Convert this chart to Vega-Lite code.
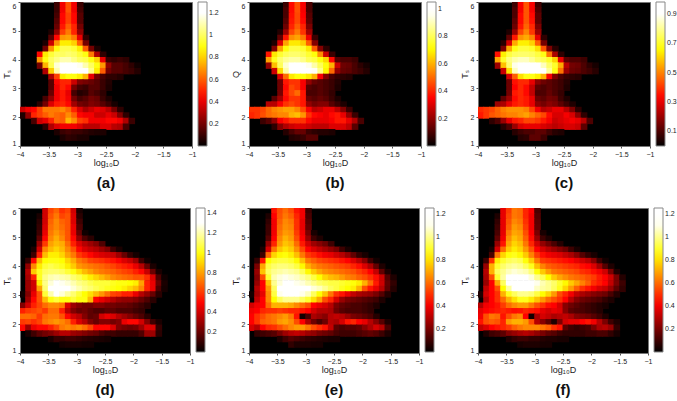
{"$schema":"https://vega.github.io/schema/vega-lite/v6.json","background":"white","padding":{"left":1,"top":1,"right":0,"bottom":0},"bounds":"flush","spacing":206,
"config":{"font":"Liberation Sans","view":{"fill":"#000","stroke":"#777","strokeWidth":1},"axis":{"grid":false,"domain":false,"tickSize":2,"tickColor":"#555","labelFontSize":7,"labelColor":"#222","titleFontSize":9,"titleFontWeight":"normal","titleColor":"#222","labelPadding":2,"labelFlush":false,"format":"~g","titlePadding":1},"axisY":{"labelFlush":true},"legend":{"gradientLength":144,"gradientThickness":9,"labelFontSize":7,"labelColor":"#222","padding":0,"offset":6,"title":null,"labelOverlap":false,"gradientStrokeColor":"#888","gradientStrokeWidth":1,"labelOffset":3},"title":{"orient":"bottom","fontSize":15,"fontWeight":"bold","anchor":"middle","offset":9,"color":"#111"}},
"datasets":{"top":[
{"x":-3.35,"y":5.9,"a":0.1,"b":0.08,"c":0.08},{"x":-3.25,"y":5.9,"a":0.42,"b":0.36,"c":0.32},{"x":-3.15,"y":5.9,"a":0.58,"b":0.46,"c":0.44},{"x":-3.05,"y":5.9,"a":0.42,"b":0.34,"c":0.32},{"x":-2.95,"y":5.9,"a":0.1,"b":0.1,"c":0.08},
{"x":-3.35,"y":5.71,"a":0.1,"b":0.1,"c":0.1},{"x":-3.25,"y":5.71,"a":0.42,"b":0.36,"c":0.32},{"x":-3.15,"y":5.71,"a":0.58,"b":0.46,"c":0.44},{"x":-3.05,"y":5.71,"a":0.42,"b":0.34,"c":0.32},{"x":-2.95,"y":5.71,"a":0.12,"b":0.1,"c":0.1},
{"x":-3.35,"y":5.52,"a":0.12,"b":0.1,"c":0.1},{"x":-3.25,"y":5.52,"a":0.45,"b":0.37,"c":0.34},{"x":-3.15,"y":5.52,"a":0.55,"b":0.45,"c":0.44},{"x":-3.05,"y":5.52,"a":0.45,"b":0.35,"c":0.34},{"x":-2.95,"y":5.52,"a":0.15,"b":0.12,"c":0.12},
{"x":-3.35,"y":5.33,"a":0.15,"b":0.12,"c":0.12},{"x":-3.25,"y":5.33,"a":0.45,"b":0.38,"c":0.34},{"x":-3.15,"y":5.33,"a":0.55,"b":0.45,"c":0.44},{"x":-3.05,"y":5.33,"a":0.45,"b":0.36,"c":0.35},{"x":-2.95,"y":5.33,"a":0.15,"b":0.13,"c":0.12},
{"x":-3.35,"y":5.13,"a":0.18,"b":0.15,"c":0.14},{"x":-3.25,"y":5.13,"a":0.48,"b":0.4,"c":0.36},{"x":-3.15,"y":5.13,"a":0.6,"b":0.48,"c":0.46},{"x":-3.05,"y":5.13,"a":0.5,"b":0.4,"c":0.38},{"x":-2.95,"y":5.13,"a":0.2,"b":0.17,"c":0.16},
{"x":-3.45,"y":4.94,"a":0.05,"b":0.05,"c":0.04},{"x":-3.35,"y":4.94,"a":0.25,"b":0.22,"c":0.2},{"x":-3.25,"y":4.94,"a":0.55,"b":0.45,"c":0.42},{"x":-3.15,"y":4.94,"a":0.65,"b":0.52,"c":0.5},{"x":-3.05,"y":4.94,"a":0.5,"b":0.42,"c":0.4},{"x":-2.95,"y":4.94,"a":0.25,"b":0.22,"c":0.2},
{"x":-3.45,"y":4.75,"a":0.15,"b":0.13,"c":0.12},{"x":-3.35,"y":4.75,"a":0.45,"b":0.38,"c":0.36},{"x":-3.25,"y":4.75,"a":0.7,"b":0.55,"c":0.52},{"x":-3.15,"y":4.75,"a":0.72,"b":0.58,"c":0.55},{"x":-3.05,"y":4.75,"a":0.65,"b":0.52,"c":0.5},{"x":-2.95,"y":4.75,"a":0.4,"b":0.33,"c":0.3},{"x":-2.85,"y":4.75,"a":0.08,"b":0.08,"c":0.06},
{"x":-3.55,"y":4.56,"a":0.05,"b":0.04,"c":0.05},{"x":-3.45,"y":4.56,"a":0.35,"b":0.3,"c":0.28},{"x":-3.35,"y":4.56,"a":0.7,"b":0.58,"c":0.55},{"x":-3.25,"y":4.56,"a":0.85,"b":0.68,"c":0.64},{"x":-3.15,"y":4.56,"a":0.85,"b":0.68,"c":0.64},{"x":-3.05,"y":4.56,"a":0.8,"b":0.64,"c":0.6},{"x":-2.95,"y":4.56,"a":0.6,"b":0.48,"c":0.45},{"x":-2.85,"y":4.56,"a":0.2,"b":0.18,"c":0.15},
{"x":-3.55,"y":4.37,"a":0.2,"b":0.18,"c":0.16},{"x":-3.45,"y":4.37,"a":0.7,"b":0.58,"c":0.55},{"x":-3.35,"y":4.37,"a":0.9,"b":0.72,"c":0.68},{"x":-3.25,"y":4.37,"a":0.98,"b":0.78,"c":0.72},{"x":-3.15,"y":4.37,"a":0.98,"b":0.78,"c":0.72},{"x":-3.05,"y":4.37,"a":0.95,"b":0.76,"c":0.7},{"x":-2.95,"y":4.37,"a":0.85,"b":0.68,"c":0.62},{"x":-2.85,"y":4.37,"a":0.6,"b":0.48,"c":0.44},{"x":-2.75,"y":4.37,"a":0.2,"b":0.18,"c":0.16},{"x":-2.65,"y":4.37,"a":0.05,"b":0.06,"c":0.05},
{"x":-3.65,"y":4.17,"a":0.45,"b":0.38,"c":0.35},{"x":-3.55,"y":4.17,"a":0.85,"b":0.68,"c":0.64},{"x":-3.45,"y":4.17,"a":0.95,"b":0.76,"c":0.72},{"x":-3.35,"y":4.17,"a":1,"b":0.8,"c":0.75},{"x":-3.25,"y":4.17,"a":1,"b":0.82,"c":0.76},{"x":-3.15,"y":4.17,"a":1.02,"b":0.82,"c":0.76},{"x":-3.05,"y":4.17,"a":1,"b":0.8,"c":0.75},{"x":-2.95,"y":4.17,"a":0.95,"b":0.76,"c":0.72},{"x":-2.85,"y":4.17,"a":0.9,"b":0.72,"c":0.68},{"x":-2.75,"y":4.17,"a":0.65,"b":0.55,"c":0.48},{"x":-2.65,"y":4.17,"a":0.3,"b":0.28,"c":0.22},{"x":-2.55,"y":4.17,"a":0.08,"b":0.08,"c":0.06},
{"x":-3.65,"y":3.98,"a":0.7,"b":0.58,"c":0.55},{"x":-3.55,"y":3.98,"a":0.9,"b":0.74,"c":0.7},{"x":-3.45,"y":3.98,"a":1,"b":0.82,"c":0.78},{"x":-3.35,"y":3.98,"a":1.05,"b":0.86,"c":0.82},{"x":-3.25,"y":3.98,"a":1.1,"b":0.88,"c":0.84},{"x":-3.15,"y":3.98,"a":1.1,"b":0.88,"c":0.84},{"x":-3.05,"y":3.98,"a":1.05,"b":0.85,"c":0.8},{"x":-2.95,"y":3.98,"a":1,"b":0.8,"c":0.76},{"x":-2.85,"y":3.98,"a":0.98,"b":0.78,"c":0.74},{"x":-2.75,"y":3.98,"a":0.9,"b":0.72,"c":0.7},{"x":-2.65,"y":3.98,"a":0.8,"b":0.65,"c":0.6},{"x":-2.55,"y":3.98,"a":0.4,"b":0.36,"c":0.3},{"x":-2.45,"y":3.98,"a":0.1,"b":0.12,"c":0.12},{"x":-2.35,"y":3.98,"a":0.08,"b":0.1,"c":0.1},{"x":-2.25,"y":3.98,"a":0.1,"b":0.1,"c":0.1},{"x":-2.15,"y":3.98,"a":0.08,"b":0.08,"c":0.08},
{"x":-3.65,"y":3.79,"a":0.2,"b":0.2,"c":0.2},{"x":-3.55,"y":3.79,"a":0.75,"b":0.62,"c":0.58},{"x":-3.45,"y":3.79,"a":0.98,"b":0.8,"c":0.76},{"x":-3.35,"y":3.79,"a":1.15,"b":0.92,"c":0.88},{"x":-3.25,"y":3.79,"a":1.25,"b":1,"c":0.94},{"x":-3.15,"y":3.79,"a":1.25,"b":1.02,"c":0.95},{"x":-3.05,"y":3.79,"a":1.22,"b":1,"c":0.93},{"x":-2.95,"y":3.79,"a":1.18,"b":0.95,"c":0.9},{"x":-2.85,"y":3.79,"a":1.1,"b":0.88,"c":0.84},{"x":-2.75,"y":3.79,"a":1,"b":0.8,"c":0.76},{"x":-2.65,"y":3.79,"a":0.9,"b":0.72,"c":0.7},{"x":-2.55,"y":3.79,"a":0.7,"b":0.6,"c":0.55},{"x":-2.45,"y":3.79,"a":0.25,"b":0.28,"c":0.24},{"x":-2.35,"y":3.79,"a":0.15,"b":0.15,"c":0.15},{"x":-2.25,"y":3.79,"a":0.15,"b":0.14,"c":0.14},{"x":-2.15,"y":3.79,"a":0.12,"b":0.1,"c":0.1},{"x":-2.05,"y":3.79,"a":0.08,"b":0.06,"c":0.06},{"x":-1.95,"y":3.79,"a":0.03,"b":0.03,"c":0.03},
{"x":-3.55,"y":3.6,"a":0.3,"b":0.28,"c":0.26},{"x":-3.45,"y":3.6,"a":0.8,"b":0.66,"c":0.62},{"x":-3.35,"y":3.6,"a":1.1,"b":0.88,"c":0.84},{"x":-3.25,"y":3.6,"a":1.28,"b":1.03,"c":0.96},{"x":-3.15,"y":3.6,"a":1.3,"b":1.05,"c":0.98},{"x":-3.05,"y":3.6,"a":1.3,"b":1.05,"c":0.98},{"x":-2.95,"y":3.6,"a":1.25,"b":1.02,"c":0.94},{"x":-2.85,"y":3.6,"a":1.2,"b":0.96,"c":0.9},{"x":-2.75,"y":3.6,"a":1.05,"b":0.85,"c":0.8},{"x":-2.65,"y":3.6,"a":0.85,"b":0.7,"c":0.68},{"x":-2.55,"y":3.6,"a":0.6,"b":0.5,"c":0.48},{"x":-2.45,"y":3.6,"a":0.2,"b":0.2,"c":0.2},{"x":-2.35,"y":3.6,"a":0.15,"b":0.14,"c":0.14},{"x":-2.25,"y":3.6,"a":0.15,"b":0.13,"c":0.13},{"x":-2.15,"y":3.6,"a":0.12,"b":0.1,"c":0.1},{"x":-2.05,"y":3.6,"a":0.1,"b":0.08,"c":0.08},{"x":-1.95,"y":3.6,"a":0.06,"b":0.05,"c":0.05},
{"x":-3.45,"y":3.4,"a":0.3,"b":0.3,"c":0.28},{"x":-3.35,"y":3.4,"a":0.55,"b":0.5,"c":0.45},{"x":-3.25,"y":3.4,"a":0.85,"b":0.68,"c":0.62},{"x":-3.15,"y":3.4,"a":0.9,"b":0.72,"c":0.68},{"x":-3.05,"y":3.4,"a":0.9,"b":0.72,"c":0.68},{"x":-2.95,"y":3.4,"a":0.85,"b":0.68,"c":0.64},{"x":-2.85,"y":3.4,"a":0.75,"b":0.6,"c":0.56},{"x":-2.75,"y":3.4,"a":0.4,"b":0.34,"c":0.32},{"x":-2.65,"y":3.4,"a":0.2,"b":0.18,"c":0.16},{"x":-2.55,"y":3.4,"a":0.12,"b":0.1,"c":0.1},{"x":-2.45,"y":3.4,"a":0.08,"b":0.07,"c":0.07},{"x":-2.35,"y":3.4,"a":0.08,"b":0.06,"c":0.06},{"x":-2.25,"y":3.4,"a":0.06,"b":0.05,"c":0.05},
{"x":-3.45,"y":3.21,"a":0.15,"b":0.15,"c":0.14},{"x":-3.35,"y":3.21,"a":0.45,"b":0.38,"c":0.35},{"x":-3.25,"y":3.21,"a":0.5,"b":0.42,"c":0.38},{"x":-3.15,"y":3.21,"a":0.5,"b":0.42,"c":0.38},{"x":-3.05,"y":3.21,"a":0.35,"b":0.34,"c":0.3},{"x":-2.95,"y":3.21,"a":0.22,"b":0.2,"c":0.18},{"x":-2.85,"y":3.21,"a":0.2,"b":0.14,"c":0.14},{"x":-2.75,"y":3.21,"a":0.18,"b":0.12,"c":0.12},{"x":-2.65,"y":3.21,"a":0.15,"b":0.1,"c":0.1},{"x":-2.55,"y":3.21,"a":0.1,"b":0.08,"c":0.08},{"x":-2.45,"y":3.21,"a":0.06,"b":0.05,"c":0.05},
{"x":-3.45,"y":3.02,"a":0.15,"b":0.15,"c":0.14},{"x":-3.35,"y":3.02,"a":0.42,"b":0.36,"c":0.33},{"x":-3.25,"y":3.02,"a":0.5,"b":0.45,"c":0.38},{"x":-3.15,"y":3.02,"a":0.45,"b":0.42,"c":0.34},{"x":-3.05,"y":3.02,"a":0.2,"b":0.34,"c":0.25},{"x":-2.95,"y":3.02,"a":0.12,"b":0.12,"c":0.12},{"x":-2.85,"y":3.02,"a":0.1,"b":0.1,"c":0.1},{"x":-2.75,"y":3.02,"a":0.15,"b":0.12,"c":0.12},{"x":-2.65,"y":3.02,"a":0.15,"b":0.1,"c":0.1},{"x":-2.55,"y":3.02,"a":0.1,"b":0.08,"c":0.08},{"x":-2.45,"y":3.02,"a":0.05,"b":0.04,"c":0.04},
{"x":-3.45,"y":2.83,"a":0.18,"b":0.16,"c":0.15},{"x":-3.35,"y":2.83,"a":0.42,"b":0.38,"c":0.36},{"x":-3.25,"y":2.83,"a":0.48,"b":0.45,"c":0.38},{"x":-3.15,"y":2.83,"a":0.4,"b":0.5,"c":0.34},{"x":-3.05,"y":2.83,"a":0.12,"b":0.38,"c":0.25},{"x":-2.95,"y":2.83,"a":0.06,"b":0.1,"c":0.1},{"x":-2.85,"y":2.83,"a":0.08,"b":0.1,"c":0.1},{"x":-2.75,"y":2.83,"a":0.15,"b":0.12,"c":0.13},{"x":-2.65,"y":2.83,"a":0.12,"b":0.1,"c":0.1},{"x":-2.55,"y":2.83,"a":0.08,"b":0.07,"c":0.07},
{"x":-3.55,"y":2.63,"a":0.12,"b":0.12,"c":0.12},{"x":-3.45,"y":2.63,"a":0.25,"b":0.22,"c":0.2},{"x":-3.35,"y":2.63,"a":0.42,"b":0.36,"c":0.34},{"x":-3.25,"y":2.63,"a":0.48,"b":0.42,"c":0.38},{"x":-3.15,"y":2.63,"a":0.42,"b":0.42,"c":0.36},{"x":-3.05,"y":2.63,"a":0.2,"b":0.38,"c":0.3},{"x":-2.95,"y":2.63,"a":0.12,"b":0.14,"c":0.14},{"x":-2.85,"y":2.63,"a":0.15,"b":0.12,"c":0.12},{"x":-2.75,"y":2.63,"a":0.2,"b":0.14,"c":0.15},{"x":-2.65,"y":2.63,"a":0.18,"b":0.12,"c":0.14},{"x":-2.55,"y":2.63,"a":0.1,"b":0.08,"c":0.08},{"x":-2.45,"y":2.63,"a":0.05,"b":0.04,"c":0.04},
{"x":-3.65,"y":2.44,"a":0.08,"b":0.25,"c":0.2},{"x":-3.55,"y":2.44,"a":0.2,"b":0.25,"c":0.22},{"x":-3.45,"y":2.44,"a":0.38,"b":0.34,"c":0.3},{"x":-3.35,"y":2.44,"a":0.48,"b":0.42,"c":0.36},{"x":-3.25,"y":2.44,"a":0.5,"b":0.45,"c":0.38},{"x":-3.15,"y":2.44,"a":0.45,"b":0.42,"c":0.36},{"x":-3.05,"y":2.44,"a":0.28,"b":0.38,"c":0.3},{"x":-2.95,"y":2.44,"a":0.2,"b":0.2,"c":0.18},{"x":-2.85,"y":2.44,"a":0.18,"b":0.16,"c":0.15},{"x":-2.75,"y":2.44,"a":0.22,"b":0.18,"c":0.18},{"x":-2.65,"y":2.44,"a":0.2,"b":0.18,"c":0.16},{"x":-2.55,"y":2.44,"a":0.15,"b":0.12,"c":0.12},{"x":-2.45,"y":2.44,"a":0.1,"b":0.08,"c":0.08},{"x":-2.35,"y":2.44,"a":0.04,"b":0.04,"c":0.04},
{"x":-3.95,"y":2.25,"a":0.35,"b":0.42,"c":0.38},{"x":-3.85,"y":2.25,"a":0.42,"b":0.42,"c":0.4},{"x":-3.75,"y":2.25,"a":0.45,"b":0.45,"c":0.42},{"x":-3.65,"y":2.25,"a":0.55,"b":0.5,"c":0.46},{"x":-3.55,"y":2.25,"a":0.65,"b":0.54,"c":0.5},{"x":-3.45,"y":2.25,"a":0.65,"b":0.56,"c":0.52},{"x":-3.35,"y":2.25,"a":0.65,"b":0.58,"c":0.52},{"x":-3.25,"y":2.25,"a":0.68,"b":0.58,"c":0.52},{"x":-3.15,"y":2.25,"a":0.62,"b":0.54,"c":0.5},{"x":-3.05,"y":2.25,"a":0.5,"b":0.46,"c":0.42},{"x":-2.95,"y":2.25,"a":0.38,"b":0.34,"c":0.32},{"x":-2.85,"y":2.25,"a":0.3,"b":0.26,"c":0.24},{"x":-2.75,"y":2.25,"a":0.35,"b":0.28,"c":0.26},{"x":-2.65,"y":2.25,"a":0.4,"b":0.32,"c":0.3},{"x":-2.55,"y":2.25,"a":0.38,"b":0.32,"c":0.3},{"x":-2.45,"y":2.25,"a":0.32,"b":0.26,"c":0.24},{"x":-2.35,"y":2.25,"a":0.2,"b":0.18,"c":0.16},{"x":-2.25,"y":2.25,"a":0.08,"b":0.08,"c":0.06},
{"x":-3.95,"y":2.06,"a":0.05,"b":0.4,"c":0.36},{"x":-3.85,"y":2.06,"a":0.25,"b":0.42,"c":0.4},{"x":-3.75,"y":2.06,"a":0.5,"b":0.46,"c":0.44},{"x":-3.65,"y":2.06,"a":0.55,"b":0.5,"c":0.46},{"x":-3.55,"y":2.06,"a":0.6,"b":0.52,"c":0.48},{"x":-3.45,"y":2.06,"a":0.65,"b":0.54,"c":0.5},{"x":-3.35,"y":2.06,"a":0.62,"b":0.54,"c":0.5},{"x":-3.25,"y":2.06,"a":0.6,"b":0.6,"c":0.52},{"x":-3.15,"y":2.06,"a":0.68,"b":0.62,"c":0.54},{"x":-3.05,"y":2.06,"a":0.6,"b":0.56,"c":0.5},{"x":-2.95,"y":2.06,"a":0.45,"b":0.42,"c":0.46},{"x":-2.85,"y":2.06,"a":0.42,"b":0.36,"c":0.42},{"x":-2.75,"y":2.06,"a":0.42,"b":0.34,"c":0.34},{"x":-2.65,"y":2.06,"a":0.35,"b":0.32,"c":0.28},{"x":-2.55,"y":2.06,"a":0.35,"b":0.36,"c":0.28},{"x":-2.45,"y":2.06,"a":0.4,"b":0.38,"c":0.32},{"x":-2.35,"y":2.06,"a":0.35,"b":0.32,"c":0.28},{"x":-2.25,"y":2.06,"a":0.22,"b":0.2,"c":0.18},{"x":-2.15,"y":2.06,"a":0.08,"b":0.08,"c":0.06},
{"x":-3.75,"y":1.87,"a":0.12,"b":0.08,"c":0.06},{"x":-3.65,"y":1.87,"a":0.35,"b":0.12,"c":0.1},{"x":-3.55,"y":1.87,"a":0.4,"b":0.2,"c":0.2},{"x":-3.45,"y":1.87,"a":0.5,"b":0.34,"c":0.3},{"x":-3.35,"y":1.87,"a":0.62,"b":0.38,"c":0.36},{"x":-3.25,"y":1.87,"a":0.6,"b":0.42,"c":0.38},{"x":-3.15,"y":1.87,"a":0.75,"b":0.42,"c":0.42},{"x":-3.05,"y":1.87,"a":0.68,"b":0.42,"c":0.42},{"x":-2.95,"y":1.87,"a":0.55,"b":0.36,"c":0.4},{"x":-2.85,"y":1.87,"a":0.52,"b":0.32,"c":0.36},{"x":-2.75,"y":1.87,"a":0.42,"b":0.32,"c":0.32},{"x":-2.65,"y":1.87,"a":0.42,"b":0.32,"c":0.26},{"x":-2.55,"y":1.87,"a":0.42,"b":0.34,"c":0.28},{"x":-2.45,"y":1.87,"a":0.45,"b":0.38,"c":0.3},{"x":-2.35,"y":1.87,"a":0.45,"b":0.38,"c":0.32},{"x":-2.25,"y":1.87,"a":0.42,"b":0.32,"c":0.3},{"x":-2.15,"y":1.87,"a":0.3,"b":0.24,"c":0.24},{"x":-2.05,"y":1.87,"a":0.1,"b":0.1,"c":0.1},
{"x":-3.55,"y":1.67,"a":0.08,"b":0.06,"c":0.05},{"x":-3.45,"y":1.67,"a":0.3,"b":0.18,"c":0.1},{"x":-3.35,"y":1.67,"a":0.38,"b":0.24,"c":0.2},{"x":-3.25,"y":1.67,"a":0.42,"b":0.28,"c":0.28},{"x":-3.15,"y":1.67,"a":0.42,"b":0.3,"c":0.3},{"x":-3.05,"y":1.67,"a":0.42,"b":0.3,"c":0.3},{"x":-2.95,"y":1.67,"a":0.38,"b":0.28,"c":0.3},{"x":-2.85,"y":1.67,"a":0.32,"b":0.26,"c":0.28},{"x":-2.75,"y":1.67,"a":0.32,"b":0.26,"c":0.26},{"x":-2.65,"y":1.67,"a":0.32,"b":0.26,"c":0.24},{"x":-2.55,"y":1.67,"a":0.38,"b":0.3,"c":0.26},{"x":-2.45,"y":1.67,"a":0.38,"b":0.3,"c":0.28},{"x":-2.35,"y":1.67,"a":0.32,"b":0.3,"c":0.28},{"x":-2.25,"y":1.67,"a":0.3,"b":0.26,"c":0.26},{"x":-2.15,"y":1.67,"a":0.12,"b":0.12,"c":0.12},
{"x":-3.35,"y":1.48,"a":0.05,"b":0.05,"c":0.05},{"x":-3.25,"y":1.48,"a":0.1,"b":0.1,"c":0.08},{"x":-3.15,"y":1.48,"a":0.12,"b":0.14,"c":0.1},{"x":-3.05,"y":1.48,"a":0.1,"b":0.14,"c":0.1},{"x":-2.95,"y":1.48,"a":0.1,"b":0.08,"c":0.12},{"x":-2.85,"y":1.48,"a":0.08,"b":0.06,"c":0.12},{"x":-2.75,"y":1.48,"a":0.06,"b":0.05,"c":0.08},{"x":-2.65,"y":1.48,"a":0.05,"b":0.05,"c":0.05},{"x":-2.55,"y":1.48,"a":0.05,"b":0.04,"c":0.04},
{"x":-3.25,"y":1.29,"a":0.05,"b":0.05,"c":0.05},{"x":-3.15,"y":1.29,"a":0.08,"b":0.06,"c":0.06},{"x":-3.05,"y":1.29,"a":0.07,"b":0.08,"c":0.12},{"x":-2.95,"y":1.29,"a":0.05,"b":0.12,"c":0.12},{"x":-2.85,"y":1.29,"a":0.05,"b":0.12,"c":0.08}
],"bot":[
{"x":-3.55,"y":5.9,"d":0.4,"e":0.45,"f":0.38},{"x":-3.45,"y":5.9,"d":0.62,"e":0.55,"f":0.52},{"x":-3.35,"y":5.9,"d":0.68,"e":0.6,"f":0.62},{"x":-3.25,"y":5.9,"d":0.58,"e":0.55,"f":0.6},{"x":-3.15,"y":5.9,"d":0.62,"e":0.45,"f":0.48},{"x":-3.05,"y":5.9,"d":0.4,"e":0.4,"f":0.42},{"x":-2.95,"y":5.9,"d":0.05,"e":0.1,"f":0.12},
{"x":-3.65,"y":5.71,"d":0.05,"e":0.05,"f":0.05},{"x":-3.55,"y":5.71,"d":0.4,"e":0.42,"f":0.38},{"x":-3.45,"y":5.71,"d":0.65,"e":0.56,"f":0.54},{"x":-3.35,"y":5.71,"d":0.72,"e":0.62,"f":0.62},{"x":-3.25,"y":5.71,"d":0.62,"e":0.58,"f":0.6},{"x":-3.15,"y":5.71,"d":0.65,"e":0.48,"f":0.48},{"x":-3.05,"y":5.71,"d":0.42,"e":0.4,"f":0.4},{"x":-2.95,"y":5.71,"d":0.08,"e":0.12,"f":0.14},
{"x":-3.65,"y":5.52,"d":0.08,"e":0.08,"f":0.08},{"x":-3.55,"y":5.52,"d":0.4,"e":0.4,"f":0.38},{"x":-3.45,"y":5.52,"d":0.68,"e":0.58,"f":0.56},{"x":-3.35,"y":5.52,"d":0.75,"e":0.65,"f":0.65},{"x":-3.25,"y":5.52,"d":0.68,"e":0.62,"f":0.62},{"x":-3.15,"y":5.52,"d":0.65,"e":0.5,"f":0.5},{"x":-3.05,"y":5.52,"d":0.42,"e":0.38,"f":0.4},{"x":-2.95,"y":5.52,"d":0.12,"e":0.14,"f":0.15},
{"x":-3.65,"y":5.33,"d":0.1,"e":0.1,"f":0.1},{"x":-3.55,"y":5.33,"d":0.42,"e":0.4,"f":0.38},{"x":-3.45,"y":5.33,"d":0.7,"e":0.6,"f":0.58},{"x":-3.35,"y":5.33,"d":0.75,"e":0.66,"f":0.68},{"x":-3.25,"y":5.33,"d":0.7,"e":0.64,"f":0.65},{"x":-3.15,"y":5.33,"d":0.65,"e":0.5,"f":0.52},{"x":-3.05,"y":5.33,"d":0.45,"e":0.38,"f":0.4},{"x":-2.95,"y":5.33,"d":0.15,"e":0.16,"f":0.16},
{"x":-3.65,"y":5.13,"d":0.12,"e":0.1,"f":0.12},{"x":-3.55,"y":5.13,"d":0.45,"e":0.4,"f":0.38},{"x":-3.45,"y":5.13,"d":0.72,"e":0.62,"f":0.62},{"x":-3.35,"y":5.13,"d":0.78,"e":0.68,"f":0.7},{"x":-3.25,"y":5.13,"d":0.72,"e":0.66,"f":0.68},{"x":-3.15,"y":5.13,"d":0.65,"e":0.52,"f":0.55},{"x":-3.05,"y":5.13,"d":0.45,"e":0.4,"f":0.42},{"x":-2.95,"y":5.13,"d":0.2,"e":0.2,"f":0.2},{"x":-2.85,"y":5.13,"d":0.03,"e":0.04,"f":0.04},
{"x":-3.65,"y":4.94,"d":0.18,"e":0.14,"f":0.16},{"x":-3.55,"y":4.94,"d":0.5,"e":0.42,"f":0.4},{"x":-3.45,"y":4.94,"d":0.75,"e":0.65,"f":0.66},{"x":-3.35,"y":4.94,"d":0.82,"e":0.72,"f":0.74},{"x":-3.25,"y":4.94,"d":0.75,"e":0.68,"f":0.7},{"x":-3.15,"y":4.94,"d":0.65,"e":0.55,"f":0.58},{"x":-3.05,"y":4.94,"d":0.5,"e":0.42,"f":0.44},{"x":-2.95,"y":4.94,"d":0.28,"e":0.25,"f":0.25},{"x":-2.85,"y":4.94,"d":0.15,"e":0.1,"f":0.1},{"x":-2.75,"y":4.94,"d":0.08,"e":0.05,"f":0.05},
{"x":-3.65,"y":4.75,"d":0.3,"e":0.25,"f":0.25},{"x":-3.55,"y":4.75,"d":0.6,"e":0.48,"f":0.45},{"x":-3.45,"y":4.75,"d":0.8,"e":0.68,"f":0.7},{"x":-3.35,"y":4.75,"d":0.85,"e":0.75,"f":0.78},{"x":-3.25,"y":4.75,"d":0.82,"e":0.72,"f":0.74},{"x":-3.15,"y":4.75,"d":0.7,"e":0.6,"f":0.62},{"x":-3.05,"y":4.75,"d":0.55,"e":0.46,"f":0.48},{"x":-2.95,"y":4.75,"d":0.42,"e":0.34,"f":0.34},{"x":-2.85,"y":4.75,"d":0.35,"e":0.26,"f":0.24},{"x":-2.75,"y":4.75,"d":0.3,"e":0.22,"f":0.18},{"x":-2.65,"y":4.75,"d":0.25,"e":0.18,"f":0.12},{"x":-2.55,"y":4.75,"d":0.15,"e":0.1,"f":0.06},
{"x":-3.75,"y":4.56,"d":0.05,"e":0.04,"f":0.04},{"x":-3.65,"y":4.56,"d":0.4,"e":0.35,"f":0.35},{"x":-3.55,"y":4.56,"d":0.75,"e":0.62,"f":0.6},{"x":-3.45,"y":4.56,"d":0.85,"e":0.75,"f":0.76},{"x":-3.35,"y":4.56,"d":0.9,"e":0.8,"f":0.82},{"x":-3.25,"y":4.56,"d":0.85,"e":0.76,"f":0.78},{"x":-3.15,"y":4.56,"d":0.75,"e":0.66,"f":0.68},{"x":-3.05,"y":4.56,"d":0.65,"e":0.54,"f":0.56},{"x":-2.95,"y":4.56,"d":0.5,"e":0.42,"f":0.42},{"x":-2.85,"y":4.56,"d":0.42,"e":0.36,"f":0.35},{"x":-2.75,"y":4.56,"d":0.38,"e":0.32,"f":0.3},{"x":-2.65,"y":4.56,"d":0.35,"e":0.28,"f":0.26},{"x":-2.55,"y":4.56,"d":0.3,"e":0.24,"f":0.22},{"x":-2.45,"y":4.56,"d":0.25,"e":0.2,"f":0.18},{"x":-2.35,"y":4.56,"d":0.12,"e":0.1,"f":0.1},{"x":-2.25,"y":4.56,"d":0.05,"e":0.04,"f":0.04},
{"x":-3.75,"y":4.37,"d":0.12,"e":0.1,"f":0.12},{"x":-3.65,"y":4.37,"d":0.55,"e":0.6,"f":0.62},{"x":-3.55,"y":4.37,"d":0.85,"e":0.78,"f":0.78},{"x":-3.45,"y":4.37,"d":0.95,"e":0.84,"f":0.86},{"x":-3.35,"y":4.37,"d":0.95,"e":0.86,"f":0.88},{"x":-3.25,"y":4.37,"d":0.9,"e":0.82,"f":0.84},{"x":-3.15,"y":4.37,"d":0.8,"e":0.74,"f":0.76},{"x":-3.05,"y":4.37,"d":0.72,"e":0.62,"f":0.64},{"x":-2.95,"y":4.37,"d":0.6,"e":0.52,"f":0.52},{"x":-2.85,"y":4.37,"d":0.55,"e":0.48,"f":0.44},{"x":-2.75,"y":4.37,"d":0.5,"e":0.44,"f":0.4},{"x":-2.65,"y":4.37,"d":0.45,"e":0.4,"f":0.38},{"x":-2.55,"y":4.37,"d":0.42,"e":0.38,"f":0.36},{"x":-2.45,"y":4.37,"d":0.4,"e":0.34,"f":0.32},{"x":-2.35,"y":4.37,"d":0.38,"e":0.3,"f":0.28},{"x":-2.25,"y":4.37,"d":0.3,"e":0.24,"f":0.22},{"x":-2.15,"y":4.37,"d":0.2,"e":0.16,"f":0.14},{"x":-2.05,"y":4.37,"d":0.1,"e":0.08,"f":0.08},{"x":-1.95,"y":4.37,"d":0.04,"e":0.04,"f":0.04},
{"x":-3.85,"y":4.17,"d":0.1,"e":0.08,"f":0.1},{"x":-3.75,"y":4.17,"d":0.5,"e":0.45,"f":0.5},{"x":-3.65,"y":4.17,"d":0.85,"e":0.85,"f":0.82},{"x":-3.55,"y":4.17,"d":0.98,"e":0.9,"f":0.9},{"x":-3.45,"y":4.17,"d":1,"e":0.92,"f":0.94},{"x":-3.35,"y":4.17,"d":1,"e":0.92,"f":0.96},{"x":-3.25,"y":4.17,"d":0.98,"e":0.9,"f":0.94},{"x":-3.15,"y":4.17,"d":0.9,"e":0.84,"f":0.86},{"x":-3.05,"y":4.17,"d":0.82,"e":0.74,"f":0.76},{"x":-2.95,"y":4.17,"d":0.72,"e":0.62,"f":0.62},{"x":-2.85,"y":4.17,"d":0.68,"e":0.58,"f":0.52},{"x":-2.75,"y":4.17,"d":0.62,"e":0.54,"f":0.5},{"x":-2.65,"y":4.17,"d":0.6,"e":0.52,"f":0.48},{"x":-2.55,"y":4.17,"d":0.58,"e":0.5,"f":0.46},{"x":-2.45,"y":4.17,"d":0.55,"e":0.48,"f":0.44},{"x":-2.35,"y":4.17,"d":0.52,"e":0.45,"f":0.42},{"x":-2.25,"y":4.17,"d":0.48,"e":0.42,"f":0.38},{"x":-2.15,"y":4.17,"d":0.42,"e":0.36,"f":0.34},{"x":-2.05,"y":4.17,"d":0.38,"e":0.3,"f":0.3},{"x":-1.95,"y":4.17,"d":0.3,"e":0.22,"f":0.22},{"x":-1.85,"y":4.17,"d":0.12,"e":0.1,"f":0.1},{"x":-1.75,"y":4.17,"d":0.03,"e":0.03,"f":0.03},
{"x":-3.85,"y":3.98,"d":0.28,"e":0.2,"f":0.25},{"x":-3.75,"y":3.98,"d":0.75,"e":0.7,"f":0.72},{"x":-3.65,"y":3.98,"d":0.95,"e":0.92,"f":0.9},{"x":-3.55,"y":3.98,"d":1.05,"e":0.96,"f":0.96},{"x":-3.45,"y":3.98,"d":1.08,"e":0.98,"f":1},{"x":-3.35,"y":3.98,"d":1.05,"e":0.98,"f":1.02},{"x":-3.25,"y":3.98,"d":1.02,"e":0.96,"f":1},{"x":-3.15,"y":3.98,"d":0.95,"e":0.92,"f":0.95},{"x":-3.05,"y":3.98,"d":0.88,"e":0.84,"f":0.88},{"x":-2.95,"y":3.98,"d":0.78,"e":0.72,"f":0.74},{"x":-2.85,"y":3.98,"d":0.75,"e":0.66,"f":0.64},{"x":-2.75,"y":3.98,"d":0.72,"e":0.62,"f":0.58},{"x":-2.65,"y":3.98,"d":0.7,"e":0.6,"f":0.56},{"x":-2.55,"y":3.98,"d":0.68,"e":0.58,"f":0.54},{"x":-2.45,"y":3.98,"d":0.65,"e":0.56,"f":0.52},{"x":-2.35,"y":3.98,"d":0.62,"e":0.54,"f":0.5},{"x":-2.25,"y":3.98,"d":0.58,"e":0.52,"f":0.48},{"x":-2.15,"y":3.98,"d":0.55,"e":0.48,"f":0.44},{"x":-2.05,"y":3.98,"d":0.52,"e":0.44,"f":0.42},{"x":-1.95,"y":3.98,"d":0.45,"e":0.36,"f":0.36},{"x":-1.85,"y":3.98,"d":0.35,"e":0.28,"f":0.26},{"x":-1.75,"y":3.98,"d":0.2,"e":0.16,"f":0.14},{"x":-1.65,"y":3.98,"d":0.05,"e":0.05,"f":0.05},
{"x":-3.85,"y":3.79,"d":0.35,"e":0.25,"f":0.3},{"x":-3.75,"y":3.79,"d":0.88,"e":0.75,"f":0.72},{"x":-3.65,"y":3.79,"d":1.02,"e":0.95,"f":0.95},{"x":-3.55,"y":3.79,"d":1.1,"e":1,"f":1},{"x":-3.45,"y":3.79,"d":1.12,"e":1.02,"f":1.05},{"x":-3.35,"y":3.79,"d":1.12,"e":1.04,"f":1.08},{"x":-3.25,"y":3.79,"d":1.1,"e":1.02,"f":1.06},{"x":-3.15,"y":3.79,"d":1.05,"e":1,"f":1.04},{"x":-3.05,"y":3.79,"d":1,"e":0.94,"f":0.98},{"x":-2.95,"y":3.79,"d":0.92,"e":0.84,"f":0.86},{"x":-2.85,"y":3.79,"d":0.85,"e":0.76,"f":0.76},{"x":-2.75,"y":3.79,"d":0.8,"e":0.7,"f":0.68},{"x":-2.65,"y":3.79,"d":0.75,"e":0.66,"f":0.62},{"x":-2.55,"y":3.79,"d":0.72,"e":0.64,"f":0.6},{"x":-2.45,"y":3.79,"d":0.7,"e":0.62,"f":0.58},{"x":-2.35,"y":3.79,"d":0.68,"e":0.6,"f":0.56},{"x":-2.25,"y":3.79,"d":0.65,"e":0.58,"f":0.54},{"x":-2.15,"y":3.79,"d":0.62,"e":0.56,"f":0.5},{"x":-2.05,"y":3.79,"d":0.6,"e":0.52,"f":0.48},{"x":-1.95,"y":3.79,"d":0.55,"e":0.48,"f":0.44},{"x":-1.85,"y":3.79,"d":0.5,"e":0.42,"f":0.4},{"x":-1.75,"y":3.79,"d":0.38,"e":0.32,"f":0.34},{"x":-1.65,"y":3.79,"d":0.2,"e":0.16,"f":0.2},{"x":-1.55,"y":3.79,"d":0.05,"e":0.05,"f":0.05},
{"x":-3.85,"y":3.6,"d":0.32,"e":0.22,"f":0.28},{"x":-3.75,"y":3.6,"d":0.55,"e":0.55,"f":0.55},{"x":-3.65,"y":3.6,"d":1.02,"e":0.9,"f":0.9},{"x":-3.55,"y":3.6,"d":1.15,"e":1.04,"f":1.02},{"x":-3.45,"y":3.6,"d":1.2,"e":1.08,"f":1.12},{"x":-3.35,"y":3.6,"d":1.22,"e":1.1,"f":1.15},{"x":-3.25,"y":3.6,"d":1.2,"e":1.08,"f":1.16},{"x":-3.15,"y":3.6,"d":1.18,"e":1.06,"f":1.14},{"x":-3.05,"y":3.6,"d":1.12,"e":1.02,"f":1.08},{"x":-2.95,"y":3.6,"d":1.08,"e":0.98,"f":1},{"x":-2.85,"y":3.6,"d":1.02,"e":0.92,"f":0.94},{"x":-2.75,"y":3.6,"d":0.95,"e":0.85,"f":0.85},{"x":-2.65,"y":3.6,"d":0.9,"e":0.78,"f":0.76},{"x":-2.55,"y":3.6,"d":0.85,"e":0.74,"f":0.7},{"x":-2.45,"y":3.6,"d":0.8,"e":0.72,"f":0.66},{"x":-2.35,"y":3.6,"d":0.75,"e":0.68,"f":0.62},{"x":-2.25,"y":3.6,"d":0.72,"e":0.64,"f":0.6},{"x":-2.15,"y":3.6,"d":0.7,"e":0.62,"f":0.58},{"x":-2.05,"y":3.6,"d":0.68,"e":0.58,"f":0.55},{"x":-1.95,"y":3.6,"d":0.65,"e":0.55,"f":0.52},{"x":-1.85,"y":3.6,"d":0.65,"e":0.5,"f":0.46},{"x":-1.75,"y":3.6,"d":0.58,"e":0.44,"f":0.42},{"x":-1.65,"y":3.6,"d":0.42,"e":0.34,"f":0.34},{"x":-1.55,"y":3.6,"d":0.15,"e":0.14,"f":0.2},{"x":-1.45,"y":3.6,"d":0.03,"e":0.05,"f":0.06},
{"x":-3.85,"y":3.4,"d":0.3,"e":0.25,"f":0.25},{"x":-3.75,"y":3.4,"d":0.4,"e":0.42,"f":0.42},{"x":-3.65,"y":3.4,"d":0.95,"e":0.75,"f":0.7},{"x":-3.55,"y":3.4,"d":1.15,"e":1,"f":0.95},{"x":-3.45,"y":3.4,"d":1.25,"e":1.08,"f":1.12},{"x":-3.35,"y":3.4,"d":1.3,"e":1.12,"f":1.2},{"x":-3.25,"y":3.4,"d":1.28,"e":1.12,"f":1.22},{"x":-3.15,"y":3.4,"d":1.25,"e":1.1,"f":1.2},{"x":-3.05,"y":3.4,"d":1.2,"e":1.08,"f":1.15},{"x":-2.95,"y":3.4,"d":1.15,"e":1.04,"f":1.1},{"x":-2.85,"y":3.4,"d":1.12,"e":1,"f":1.04},{"x":-2.75,"y":3.4,"d":1.08,"e":0.96,"f":1},{"x":-2.65,"y":3.4,"d":1.05,"e":0.94,"f":0.96},{"x":-2.55,"y":3.4,"d":1.05,"e":0.92,"f":0.9},{"x":-2.45,"y":3.4,"d":1.05,"e":0.92,"f":0.84},{"x":-2.35,"y":3.4,"d":1.02,"e":0.9,"f":0.76},{"x":-2.25,"y":3.4,"d":1,"e":0.88,"f":0.7},{"x":-2.15,"y":3.4,"d":1,"e":0.86,"f":0.64},{"x":-2.05,"y":3.4,"d":0.98,"e":0.82,"f":0.58},{"x":-1.95,"y":3.4,"d":0.95,"e":0.72,"f":0.5},{"x":-1.85,"y":3.4,"d":0.8,"e":0.6,"f":0.46},{"x":-1.75,"y":3.4,"d":0.55,"e":0.46,"f":0.42},{"x":-1.65,"y":3.4,"d":0.45,"e":0.34,"f":0.32},{"x":-1.55,"y":3.4,"d":0.2,"e":0.16,"f":0.2},{"x":-1.45,"y":3.4,"d":0.05,"e":0.08,"f":0.1},
{"x":-3.85,"y":3.21,"d":0.3,"e":0.3,"f":0.32},{"x":-3.75,"y":3.21,"d":0.4,"e":0.42,"f":0.42},{"x":-3.65,"y":3.21,"d":0.8,"e":0.68,"f":0.55},{"x":-3.55,"y":3.21,"d":1.12,"e":0.95,"f":0.85},{"x":-3.45,"y":3.21,"d":1.3,"e":1.15,"f":1.02},{"x":-3.35,"y":3.21,"d":1.42,"e":1.2,"f":1.12},{"x":-3.25,"y":3.21,"d":1.45,"e":1.2,"f":1.18},{"x":-3.15,"y":3.21,"d":1.35,"e":1.18,"f":1.15},{"x":-3.05,"y":3.21,"d":1.25,"e":1.15,"f":1.12},{"x":-2.95,"y":3.21,"d":1.2,"e":1.12,"f":1.06},{"x":-2.85,"y":3.21,"d":1.15,"e":1.08,"f":1.02},{"x":-2.75,"y":3.21,"d":1.12,"e":1.05,"f":1},{"x":-2.65,"y":3.21,"d":1.08,"e":1,"f":0.95},{"x":-2.55,"y":3.21,"d":1.05,"e":0.95,"f":0.88},{"x":-2.45,"y":3.21,"d":1.02,"e":0.92,"f":0.78},{"x":-2.35,"y":3.21,"d":1,"e":0.88,"f":0.68},{"x":-2.25,"y":3.21,"d":0.98,"e":0.85,"f":0.58},{"x":-2.15,"y":3.21,"d":0.95,"e":0.82,"f":0.5},{"x":-2.05,"y":3.21,"d":0.9,"e":0.72,"f":0.45},{"x":-1.95,"y":3.21,"d":0.85,"e":0.55,"f":0.4},{"x":-1.85,"y":3.21,"d":0.75,"e":0.45,"f":0.35},{"x":-1.75,"y":3.21,"d":0.55,"e":0.38,"f":0.32},{"x":-1.65,"y":3.21,"d":0.45,"e":0.3,"f":0.25},{"x":-1.55,"y":3.21,"d":0.15,"e":0.15,"f":0.15},{"x":-1.45,"y":3.21,"d":0.04,"e":0.06,"f":0.08},
{"x":-3.95,"y":3.02,"d":0.03,"e":0.03,"f":0.05},{"x":-3.85,"y":3.02,"d":0.25,"e":0.28,"f":0.35},{"x":-3.75,"y":3.02,"d":0.45,"e":0.38,"f":0.42},{"x":-3.65,"y":3.02,"d":0.65,"e":0.65,"f":0.5},{"x":-3.55,"y":3.02,"d":1.05,"e":0.92,"f":0.72},{"x":-3.45,"y":3.02,"d":1.2,"e":1.1,"f":0.88},{"x":-3.35,"y":3.02,"d":1.3,"e":1.15,"f":0.95},{"x":-3.25,"y":3.02,"d":1.25,"e":1.18,"f":1},{"x":-3.15,"y":3.02,"d":1.18,"e":1.15,"f":1},{"x":-3.05,"y":3.02,"d":1.12,"e":1.1,"f":0.98},{"x":-2.95,"y":3.02,"d":1.05,"e":1.05,"f":0.92},{"x":-2.85,"y":3.02,"d":0.98,"e":0.95,"f":0.85},{"x":-2.75,"y":3.02,"d":0.92,"e":0.85,"f":0.78},{"x":-2.65,"y":3.02,"d":0.85,"e":0.75,"f":0.68},{"x":-2.55,"y":3.02,"d":0.78,"e":0.62,"f":0.55},{"x":-2.45,"y":3.02,"d":0.7,"e":0.5,"f":0.48},{"x":-2.35,"y":3.02,"d":0.62,"e":0.45,"f":0.4},{"x":-2.25,"y":3.02,"d":0.6,"e":0.38,"f":0.32},{"x":-2.15,"y":3.02,"d":0.55,"e":0.32,"f":0.28},{"x":-2.05,"y":3.02,"d":0.55,"e":0.28,"f":0.25},{"x":-1.95,"y":3.02,"d":0.45,"e":0.26,"f":0.22},{"x":-1.85,"y":3.02,"d":0.35,"e":0.24,"f":0.2},{"x":-1.75,"y":3.02,"d":0.28,"e":0.2,"f":0.18},{"x":-1.65,"y":3.02,"d":0.2,"e":0.14,"f":0.12},{"x":-1.55,"y":3.02,"d":0.08,"e":0.06,"f":0.06},
{"x":-3.85,"y":2.83,"d":0.3,"e":0.32,"f":0.3},{"x":-3.75,"y":2.83,"d":0.5,"e":0.42,"f":0.42},{"x":-3.65,"y":2.83,"d":0.65,"e":0.65,"f":0.5},{"x":-3.55,"y":2.83,"d":0.85,"e":0.85,"f":0.6},{"x":-3.45,"y":2.83,"d":1,"e":0.95,"f":0.72},{"x":-3.35,"y":2.83,"d":1.05,"e":1,"f":0.8},{"x":-3.25,"y":2.83,"d":1,"e":1,"f":0.88},{"x":-3.15,"y":2.83,"d":1,"e":1,"f":0.88},{"x":-3.05,"y":2.83,"d":1.05,"e":0.95,"f":0.82},{"x":-2.95,"y":2.83,"d":1,"e":0.9,"f":0.75},{"x":-2.85,"y":2.83,"d":1,"e":0.8,"f":0.68},{"x":-2.75,"y":2.83,"d":0.85,"e":0.7,"f":0.6},{"x":-2.65,"y":2.83,"d":0.5,"e":0.55,"f":0.55},{"x":-2.55,"y":2.83,"d":0.45,"e":0.48,"f":0.5},{"x":-2.45,"y":2.83,"d":0.4,"e":0.35,"f":0.42},{"x":-2.35,"y":2.83,"d":0.35,"e":0.25,"f":0.3},{"x":-2.25,"y":2.83,"d":0.3,"e":0.2,"f":0.22},{"x":-2.15,"y":2.83,"d":0.28,"e":0.18,"f":0.18},{"x":-2.05,"y":2.83,"d":0.28,"e":0.16,"f":0.16},{"x":-1.95,"y":2.83,"d":0.25,"e":0.14,"f":0.14},{"x":-1.85,"y":2.83,"d":0.2,"e":0.12,"f":0.12},{"x":-1.75,"y":2.83,"d":0.15,"e":0.1,"f":0.08},{"x":-1.65,"y":2.83,"d":0.08,"e":0.05,"f":0.05},
{"x":-3.95,"y":2.63,"d":0.25,"e":0.35,"f":0.3},{"x":-3.85,"y":2.63,"d":0.4,"e":0.4,"f":0.4},{"x":-3.75,"y":2.63,"d":0.55,"e":0.42,"f":0.42},{"x":-3.65,"y":2.63,"d":0.62,"e":0.6,"f":0.45},{"x":-3.55,"y":2.63,"d":0.7,"e":0.72,"f":0.52},{"x":-3.45,"y":2.63,"d":0.75,"e":0.72,"f":0.6},{"x":-3.35,"y":2.63,"d":0.75,"e":0.72,"f":0.65},{"x":-3.25,"y":2.63,"d":0.72,"e":0.7,"f":0.68},{"x":-3.15,"y":2.63,"d":0.42,"e":0.65,"f":0.68},{"x":-3.05,"y":2.63,"d":0.3,"e":0.6,"f":0.62},{"x":-2.95,"y":2.63,"d":0.25,"e":0.55,"f":0.55},{"x":-2.85,"y":2.63,"d":0.22,"e":0.42,"f":0.5},{"x":-2.75,"y":2.63,"d":0.22,"e":0.38,"f":0.44},{"x":-2.65,"y":2.63,"d":0.25,"e":0.35,"f":0.42},{"x":-2.55,"y":2.63,"d":0.25,"e":0.3,"f":0.35},{"x":-2.45,"y":2.63,"d":0.22,"e":0.2,"f":0.22},{"x":-2.35,"y":2.63,"d":0.22,"e":0.16,"f":0.18},{"x":-2.25,"y":2.63,"d":0.2,"e":0.14,"f":0.15},{"x":-2.15,"y":2.63,"d":0.2,"e":0.12,"f":0.12},{"x":-2.05,"y":2.63,"d":0.18,"e":0.12,"f":0.1},{"x":-1.95,"y":2.63,"d":0.15,"e":0.1,"f":0.08},{"x":-1.85,"y":2.63,"d":0.12,"e":0.08,"f":0.06},{"x":-1.75,"y":2.63,"d":0.08,"e":0.05,"f":0.04},
{"x":-3.95,"y":2.44,"d":0.55,"e":0.4,"f":0.38},{"x":-3.85,"y":2.44,"d":0.6,"e":0.42,"f":0.42},{"x":-3.75,"y":2.44,"d":0.62,"e":0.48,"f":0.44},{"x":-3.65,"y":2.44,"d":0.65,"e":0.5,"f":0.46},{"x":-3.55,"y":2.44,"d":0.6,"e":0.5,"f":0.48},{"x":-3.45,"y":2.44,"d":0.7,"e":0.52,"f":0.46},{"x":-3.35,"y":2.44,"d":0.7,"e":0.5,"f":0.44},{"x":-3.25,"y":2.44,"d":0.55,"e":0.48,"f":0.45},{"x":-3.15,"y":2.44,"d":0.35,"e":0.48,"f":0.48},{"x":-3.05,"y":2.44,"d":0.25,"e":0.45,"f":0.46},{"x":-2.95,"y":2.44,"d":0.2,"e":0.42,"f":0.44},{"x":-2.85,"y":2.44,"d":0.22,"e":0.35,"f":0.38},{"x":-2.75,"y":2.44,"d":0.18,"e":0.3,"f":0.35},{"x":-2.65,"y":2.44,"d":0.15,"e":0.3,"f":0.38},{"x":-2.55,"y":2.44,"d":0.15,"e":0.28,"f":0.36},{"x":-2.45,"y":2.44,"d":0.18,"e":0.18,"f":0.22},{"x":-2.35,"y":2.44,"d":0.18,"e":0.14,"f":0.15},{"x":-2.25,"y":2.44,"d":0.15,"e":0.12,"f":0.13},{"x":-2.15,"y":2.44,"d":0.15,"e":0.12,"f":0.12},{"x":-2.05,"y":2.44,"d":0.15,"e":0.12,"f":0.1},{"x":-1.95,"y":2.44,"d":0.12,"e":0.1,"f":0.08},{"x":-1.85,"y":2.44,"d":0.1,"e":0.08,"f":0.06},
{"x":-3.95,"y":2.25,"d":0.7,"e":0.42,"f":0.4},{"x":-3.85,"y":2.25,"d":0.7,"e":0.5,"f":0.55},{"x":-3.75,"y":2.25,"d":0.68,"e":0.55,"f":0.62},{"x":-3.65,"y":2.25,"d":0.6,"e":0.6,"f":0.6},{"x":-3.55,"y":2.25,"d":0.7,"e":0.62,"f":0.45},{"x":-3.45,"y":2.25,"d":0.72,"e":0.65,"f":0.55},{"x":-3.35,"y":2.25,"d":0.72,"e":0.68,"f":0.62},{"x":-3.25,"y":2.25,"d":0.65,"e":0.62,"f":0.65},{"x":-3.15,"y":2.25,"d":0.5,"e":0.45,"f":0.42},{"x":-3.05,"y":2.25,"d":0.4,"e":0.03,"f":0.03},{"x":-2.95,"y":2.25,"d":0.35,"e":0.12,"f":0.28},{"x":-2.85,"y":2.25,"d":0.25,"e":0.28,"f":0.35},{"x":-2.75,"y":2.25,"d":0.18,"e":0.25,"f":0.32},{"x":-2.65,"y":2.25,"d":0.2,"e":0.22,"f":0.28},{"x":-2.55,"y":2.25,"d":0.4,"e":0.3,"f":0.3},{"x":-2.45,"y":2.25,"d":0.45,"e":0.32,"f":0.32},{"x":-2.35,"y":2.25,"d":0.42,"e":0.3,"f":0.28},{"x":-2.25,"y":2.25,"d":0.35,"e":0.25,"f":0.22},{"x":-2.15,"y":2.25,"d":0.3,"e":0.2,"f":0.2},{"x":-2.05,"y":2.25,"d":0.25,"e":0.18,"f":0.18},{"x":-1.95,"y":2.25,"d":0.2,"e":0.15,"f":0.14},{"x":-1.85,"y":2.25,"d":0.15,"e":0.12,"f":0.1},{"x":-1.75,"y":2.25,"d":0.08,"e":0.06,"f":0.05},
{"x":-3.95,"y":2.06,"d":0.6,"e":0.42,"f":0.45},{"x":-3.85,"y":2.06,"d":0.62,"e":0.5,"f":0.55},{"x":-3.75,"y":2.06,"d":0.58,"e":0.58,"f":0.58},{"x":-3.65,"y":2.06,"d":0.62,"e":0.6,"f":0.56},{"x":-3.55,"y":2.06,"d":0.72,"e":0.62,"f":0.48},{"x":-3.45,"y":2.06,"d":0.75,"e":0.68,"f":0.68},{"x":-3.35,"y":2.06,"d":0.78,"e":0.7,"f":0.72},{"x":-3.25,"y":2.06,"d":0.75,"e":0.66,"f":0.72},{"x":-3.15,"y":2.06,"d":0.7,"e":0.55,"f":0.68},{"x":-3.05,"y":2.06,"d":0.55,"e":0.42,"f":0.55},{"x":-2.95,"y":2.06,"d":0.42,"e":0.28,"f":0.3},{"x":-2.85,"y":2.06,"d":0.35,"e":0.18,"f":0.22},{"x":-2.75,"y":2.06,"d":0.25,"e":0.12,"f":0.15},{"x":-2.65,"y":2.06,"d":0.2,"e":0.18,"f":0.05},{"x":-2.55,"y":2.06,"d":0.25,"e":0.3,"f":0.2},{"x":-2.45,"y":2.06,"d":0.25,"e":0.28,"f":0.35},{"x":-2.35,"y":2.06,"d":0.22,"e":0.35,"f":0.38},{"x":-2.25,"y":2.06,"d":0.25,"e":0.45,"f":0.38},{"x":-2.15,"y":2.06,"d":0.45,"e":0.48,"f":0.42},{"x":-2.05,"y":2.06,"d":0.5,"e":0.42,"f":0.45},{"x":-1.95,"y":2.06,"d":0.5,"e":0.38,"f":0.4},{"x":-1.85,"y":2.06,"d":0.4,"e":0.3,"f":0.3},{"x":-1.75,"y":2.06,"d":0.25,"e":0.22,"f":0.2},{"x":-1.65,"y":2.06,"d":0.12,"e":0.14,"f":0.1},{"x":-1.55,"y":2.06,"d":0.05,"e":0.05,"f":0.05},
{"x":-3.95,"y":1.87,"d":0.5,"e":0.35,"f":0.32},{"x":-3.85,"y":1.87,"d":0.3,"e":0.3,"f":0.36},{"x":-3.75,"y":1.87,"d":0.45,"e":0.42,"f":0.42},{"x":-3.65,"y":1.87,"d":0.5,"e":0.48,"f":0.45},{"x":-3.55,"y":1.87,"d":0.5,"e":0.5,"f":0.48},{"x":-3.45,"y":1.87,"d":0.55,"e":0.55,"f":0.52},{"x":-3.35,"y":1.87,"d":0.62,"e":0.6,"f":0.58},{"x":-3.25,"y":1.87,"d":0.72,"e":0.65,"f":0.62},{"x":-3.15,"y":1.87,"d":0.75,"e":0.68,"f":0.65},{"x":-3.05,"y":1.87,"d":0.72,"e":0.68,"f":0.65},{"x":-2.95,"y":1.87,"d":0.75,"e":0.62,"f":0.65},{"x":-2.85,"y":1.87,"d":0.7,"e":0.55,"f":0.62},{"x":-2.75,"y":1.87,"d":0.62,"e":0.5,"f":0.58},{"x":-2.65,"y":1.87,"d":0.5,"e":0.45,"f":0.5},{"x":-2.55,"y":1.87,"d":0.5,"e":0.32,"f":0.45},{"x":-2.45,"y":1.87,"d":0.5,"e":0.15,"f":0.15},{"x":-2.35,"y":1.87,"d":0.42,"e":0.12,"f":0.1},{"x":-2.25,"y":1.87,"d":0.25,"e":0.14,"f":0.08},{"x":-2.15,"y":1.87,"d":0.22,"e":0.14,"f":0.1},{"x":-2.05,"y":1.87,"d":0.2,"e":0.16,"f":0.12},{"x":-1.95,"y":1.87,"d":0.22,"e":0.22,"f":0.2},{"x":-1.85,"y":1.87,"d":0.3,"e":0.28,"f":0.28},{"x":-1.75,"y":1.87,"d":0.42,"e":0.35,"f":0.3},{"x":-1.65,"y":1.87,"d":0.42,"e":0.3,"f":0.25},{"x":-1.55,"y":1.87,"d":0.1,"e":0.12,"f":0.08},
{"x":-3.85,"y":1.67,"d":0.05,"e":0.08,"f":0.05},{"x":-3.75,"y":1.67,"d":0.12,"e":0.1,"f":0.1},{"x":-3.65,"y":1.67,"d":0.18,"e":0.12,"f":0.12},{"x":-3.55,"y":1.67,"d":0.22,"e":0.14,"f":0.15},{"x":-3.45,"y":1.67,"d":0.25,"e":0.2,"f":0.22},{"x":-3.35,"y":1.67,"d":0.3,"e":0.26,"f":0.25},{"x":-3.25,"y":1.67,"d":0.35,"e":0.3,"f":0.28},{"x":-3.15,"y":1.67,"d":0.35,"e":0.32,"f":0.3},{"x":-3.05,"y":1.67,"d":0.3,"e":0.3,"f":0.28},{"x":-2.95,"y":1.67,"d":0.28,"e":0.26,"f":0.24},{"x":-2.85,"y":1.67,"d":0.25,"e":0.24,"f":0.2},{"x":-2.75,"y":1.67,"d":0.22,"e":0.2,"f":0.16},{"x":-2.65,"y":1.67,"d":0.2,"e":0.18,"f":0.14},{"x":-2.55,"y":1.67,"d":0.15,"e":0.16,"f":0.1},{"x":-2.45,"y":1.67,"d":0.12,"e":0.12,"f":0.08},{"x":-2.35,"y":1.67,"d":0.12,"e":0.1,"f":0.08},{"x":-2.25,"y":1.67,"d":0.1,"e":0.1,"f":0.08},{"x":-2.15,"y":1.67,"d":0.1,"e":0.1,"f":0.08},{"x":-2.05,"y":1.67,"d":0.1,"e":0.12,"f":0.1},{"x":-1.95,"y":1.67,"d":0.1,"e":0.14,"f":0.1},{"x":-1.85,"y":1.67,"d":0.15,"e":0.16,"f":0.12},{"x":-1.75,"y":1.67,"d":0.3,"e":0.14,"f":0.12},{"x":-1.65,"y":1.67,"d":0.3,"e":0.1,"f":0.08},{"x":-1.55,"y":1.67,"d":0.08,"e":0.05,"f":0.04},
{"x":-3.45,"y":1.48,"d":0.05,"e":0.05,"f":0.05},{"x":-3.35,"y":1.48,"d":0.1,"e":0.1,"f":0.08},{"x":-3.25,"y":1.48,"d":0.1,"e":0.14,"f":0.1},{"x":-3.15,"y":1.48,"d":0.12,"e":0.12,"f":0.1},{"x":-3.05,"y":1.48,"d":0.12,"e":0.1,"f":0.08},{"x":-2.95,"y":1.48,"d":0.1,"e":0.08,"f":0.08},{"x":-2.85,"y":1.48,"d":0.08,"e":0.07,"f":0.06},{"x":-2.75,"y":1.48,"d":0.07,"e":0.06,"f":0.05},{"x":-2.65,"y":1.48,"d":0.06,"e":0.05,"f":0.05},{"x":-2.55,"y":1.48,"d":0.05,"e":0.04,"f":0.04},{"x":-2.45,"y":1.48,"d":0.04,"e":0.04,"f":0.04},
{"x":-3.25,"y":1.29,"d":0.04,"e":0.08,"f":0.04},{"x":-3.15,"y":1.29,"d":0.05,"e":0.05,"f":0.05},{"x":-3.05,"y":1.29,"d":0.05,"e":0.05,"f":0.05},{"x":-2.95,"y":1.29,"d":0.05,"e":0.05,"f":0.05},{"x":-2.85,"y":1.29,"d":0.04,"e":0.04,"f":0.04},{"x":-2.75,"y":1.29,"d":0.04,"e":0.04,"f":0.04}
]},
"vconcat":[
{"hconcat":[
{"title":"(a)","width":172,"height":144,"data":{"name":"top"},"mark":{"type":"rect","width":6.6,"height":6.4,"clip":true},"encoding":{"x":{"field":"x","type":"quantitative","scale":{"domain":[-4,-1],"nice":false,"zero":false},"axis":{"values":[-4,-3.5,-3,-2.5,-2,-1.5,-1],"title":"log₁₀D"}},"y":{"field":"y","type":"quantitative","scale":{"domain":[1,6],"nice":false,"zero":false},"axis":{"values":[1,2,3,4,5,6],"title":"Tₛ"}},"color":{"field":"a","type":"quantitative","scale":{"domain":[0,0.44,0.88,1.2,1.3],"range":["#000000","#ff0000","#ffff00","#ffffff","#ffffff"],"interpolate":"rgb"},"legend":{"values":[0.2,0.4,0.6,0.8,1,1.2],"labelExpr":"''+round(datum.value*10)/10"}}}},
{"title":"(b)","width":172,"height":144,"data":{"name":"top"},"mark":{"type":"rect","width":6.6,"height":6.4,"clip":true},"encoding":{"x":{"field":"x","type":"quantitative","scale":{"domain":[-4,-1],"nice":false,"zero":false},"axis":{"values":[-4,-3.5,-3,-2.5,-2,-1.5,-1],"title":"log₁₀D"}},"y":{"field":"y","type":"quantitative","scale":{"domain":[1,6],"nice":false,"zero":false},"axis":{"values":[1,2,3,4,5,6],"title":"Q"}},"color":{"field":"b","type":"quantitative","scale":{"domain":[0,0.35,0.71,0.97,1.05],"range":["#000000","#ff0000","#ffff00","#ffffff","#ffffff"],"interpolate":"rgb"},"legend":{"values":[0.2,0.4,0.6,0.8,1],"labelExpr":"''+round(datum.value*10)/10"}}}},
{"title":"(c)","width":172,"height":144,"data":{"name":"top"},"mark":{"type":"rect","width":6.6,"height":6.4,"clip":true},"encoding":{"x":{"field":"x","type":"quantitative","scale":{"domain":[-4,-1],"nice":false,"zero":false},"axis":{"values":[-4,-3.5,-3,-2.5,-2,-1.5,-1],"title":"log₁₀D"}},"y":{"field":"y","type":"quantitative","scale":{"domain":[1,6],"nice":false,"zero":false},"axis":{"values":[1,2,3,4,5,6],"title":"Tₛ"}},"color":{"field":"c","type":"quantitative","scale":{"domain":[0,0.33,0.66,0.9,0.98],"range":["#000000","#ff0000","#ffff00","#ffffff","#ffffff"],"interpolate":"rgb"},"legend":{"values":[0.1,0.3,0.5,0.7,0.9],"labelExpr":"''+round(datum.value*10)/10"}}}}
],"spacing":57,"bounds":"flush","resolve":{"scale":{"color":"independent"}}},
{"hconcat":[
{"title":"(d)","width":170,"height":145,"data":{"name":"bot"},"mark":{"type":"rect","width":6.6,"height":6.4,"clip":true},"encoding":{"x":{"field":"x","type":"quantitative","scale":{"domain":[-4,-1],"nice":false,"zero":false},"axis":{"values":[-4,-3.5,-3,-2.5,-2,-1.5,-1],"title":"log₁₀D"}},"y":{"field":"y","type":"quantitative","scale":{"domain":[1,6],"nice":false,"zero":false},"axis":{"values":[1,2,3,4,5,6],"title":"Tₛ"}},"color":{"field":"d","type":"quantitative","scale":{"domain":[0,0.49,0.98,1.3,1.45],"range":["#000000","#ff0000","#ffff00","#ffffff","#ffffff"],"interpolate":"rgb"},"legend":{"values":[0.2,0.4,0.6,0.8,1,1.2,1.4],"labelExpr":"''+round(datum.value*10)/10"}}}},
{"title":"(e)","width":170,"height":145,"data":{"name":"bot"},"mark":{"type":"rect","width":6.6,"height":6.4,"clip":true},"encoding":{"x":{"field":"x","type":"quantitative","scale":{"domain":[-4,-1],"nice":false,"zero":false},"axis":{"values":[-4,-3.5,-3,-2.5,-2,-1.5,-1],"title":"log₁₀D"}},"y":{"field":"y","type":"quantitative","scale":{"domain":[1,6],"nice":false,"zero":false},"axis":{"values":[1,2,3,4,5,6],"title":"Tₛ"}},"color":{"field":"e","type":"quantitative","scale":{"domain":[0,0.42,0.85,1.12,1.25],"range":["#000000","#ff0000","#ffff00","#ffffff","#ffffff"],"interpolate":"rgb"},"legend":{"values":[0.2,0.4,0.6,0.8,1,1.2],"labelExpr":"''+round(datum.value*10)/10"}}}},
{"title":"(f)","width":170,"height":145,"data":{"name":"bot"},"mark":{"type":"rect","width":6.6,"height":6.4,"clip":true},"encoding":{"x":{"field":"x","type":"quantitative","scale":{"domain":[-4,-1],"nice":false,"zero":false},"axis":{"values":[-4,-3.5,-3,-2.5,-2,-1.5,-1],"title":"log₁₀D"}},"y":{"field":"y","type":"quantitative","scale":{"domain":[1,6],"nice":false,"zero":false},"axis":{"values":[1,2,3,4,5,6],"title":"Tₛ"}},"color":{"field":"f","type":"quantitative","scale":{"domain":[0,0.42,0.85,1.12,1.25],"range":["#000000","#ff0000","#ffff00","#ffffff","#ffffff"],"interpolate":"rgb"},"legend":{"values":[0.2,0.4,0.6,0.8,1,1.2],"labelExpr":"''+round(datum.value*10)/10"}}}}
],"spacing":59,"bounds":"flush","resolve":{"scale":{"color":"independent"}}}
],"resolve":{"scale":{"color":"independent"}}}
